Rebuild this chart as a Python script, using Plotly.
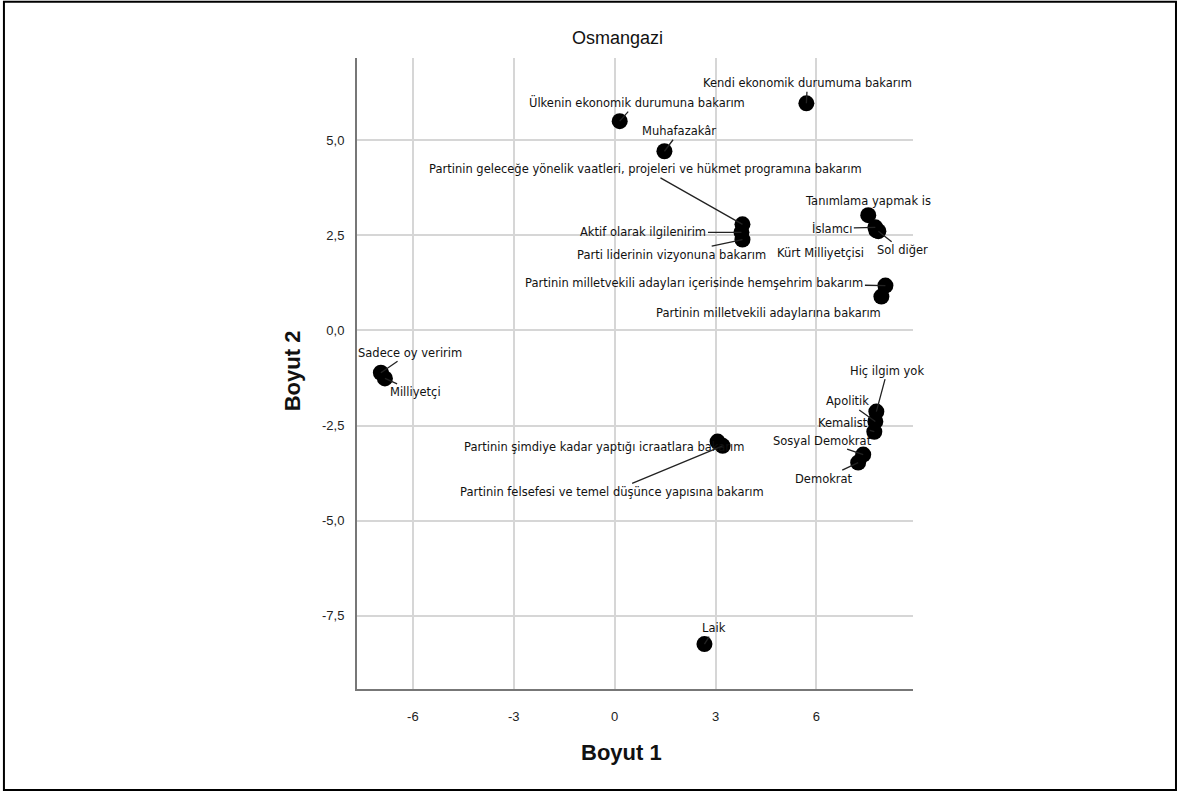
import plotly.graph_objects as go

# category labels and their coordinates (Boyut 1, Boyut 2)
labels = [
    "Kendi ekonomik durumuma bakarım",
    "Ülkenin ekonomik durumuna bakarım",
    "Muhafazakâr",
    "Partinin geleceğe yönelik vaatleri, projeleri ve hükmet programına bakarım",
    "Aktif olarak ilgilenirim",
    "Parti liderinin vizyonuna bakarım",
    "Tanımlama yapmak is",
    "İslamcı",
    "Kürt Milliyetçisi",
    "Sol diğer",
    "Partinin milletvekili adayları içerisinde hemşehrim bakarım",
    "Partinin milletvekili adaylarına bakarım",
    "Sadece oy veririm",
    "Milliyetçi",
    "Hiç ilgim yok",
    "Apolitik",
    "Kemalist",
    "Sosyal Demokrat",
    "Demokrat",
    "Partinin şimdiye kadar yaptığı icraatlara bakarım",
    "Partinin felsefesi ve temel düşünce yapısına bakarım",
    "Laik",
]
boyut1 = [5.70, 0.15, 1.48, 3.80, 3.77, 3.80, 7.54, 7.75, 7.78, 7.84, 8.05, 7.93,
          -6.95, -6.83, 7.78, 7.75, 7.72, 7.39, 7.24, 3.06, 3.21, 2.67]
boyut2 = [5.97, 5.50, 4.71, 2.79, 2.58, 2.39, 3.03, 2.71, 2.63, 2.61, 1.18, 0.89,
          -1.11, -1.26, -2.13, -2.39, -2.66, -3.26, -3.47, -2.92, -3.03, -8.24]

x_ticks = [-6, -3, 0, 3, 6]
x_ticktext = ["-6", "-3", "0", "3", "6"]
y_ticks = [-7.5, -5.0, -2.5, 0.0, 2.5, 5.0]
y_ticktext = ["-7,5", "-5,0", "-2,5", "0,0", "2,5", "5,0"]

# label offsets in pixels (text centre relative to point)
offsets = [(1, -20), (17, -19), (15, -20), (-97, -55), (-98, 0), (-71, 15),
           (0, -14), (-43, 1), (-56, 23), (24, 19), (-191, -3), (-113, 16),
           (29, -20), (31, 14), (11, -41), (-28, -20), (-31, -9), (-41, -14),
           (-34, 16), (-113, 5), (-111, 46), (10, -16)]
no_lead = {"Tanımlama yapmak is", "Kürt Milliyetçisi",
           "Partinin milletvekili adaylarına bakarım"}

lab_font = dict(family="DejaVu Sans, Arial", size=11.5, color="#111111")
big_font = "Liberation Sans, Arial"

fig = go.Figure()
fig.add_trace(go.Scatter(
    x=boyut1, y=boyut2, mode="markers",
    marker=dict(color="black", size=16),
    hoverinfo="text", text=labels, showlegend=False,
))

annotations = []
for lab, xv, yv, (dx, dy) in zip(labels, boyut1, boyut2, offsets):
    annotations.append(dict(
        x=xv, y=yv, text=lab, showarrow=True, ax=dx, ay=dy,
        arrowhead=0, arrowwidth=1.3, standoff=0,
        arrowcolor="rgba(0,0,0,0)" if lab in no_lead else "#222222",
        font=lab_font,
    ))

# title and axis titles placed by hand to follow the original layout
annotations += [
    dict(text="Osmangazi", xref="paper", yref="paper", x=0.468, y=1.032,
         xanchor="center", yanchor="middle", showarrow=False,
         font=dict(family=big_font, size=18, color="#111111")),
    dict(text="<b>Boyut 1</b>", xref="paper", yref="paper", x=0.475, y=-0.10,
         xanchor="center", yanchor="middle", showarrow=False,
         font=dict(family=big_font, size=22, color="#111111")),
    dict(text="<b>Boyut 2</b>", xref="paper", yref="paper", x=-0.117, y=0.505,
         xanchor="center", yanchor="middle", textangle=-90, showarrow=False,
         font=dict(family=big_font, size=22, color="#111111")),
]

fig.update_layout(
    width=1178, height=794,
    margin=dict(l=357, r=265, t=58, b=105),
    paper_bgcolor="white", plot_bgcolor="white",
    annotations=annotations,
    shapes=[dict(type="rect", xref="paper", yref="paper",
                 x0=-0.635, x1=1.473, y0=-0.160, y1=1.089,
                 line=dict(color="black", width=2))],
    xaxis=dict(range=[-7.66, 8.87], tickvals=x_ticks, ticktext=x_ticktext,
               showgrid=True, gridcolor="#d6d6d6", gridwidth=2, zeroline=False,
               showline=True, linecolor="#777777", linewidth=2,
               ticks="", ticklabelstandoff=14,
               tickfont=dict(family=big_font, size=13, color="#222222")),
    yaxis=dict(range=[-9.42, 7.16], tickvals=y_ticks, ticktext=y_ticktext,
               showgrid=True, gridcolor="#d6d6d6", gridwidth=2, zeroline=False,
               showline=True, linecolor="#777777", linewidth=2,
               ticks="", ticklabelstandoff=8,
               tickfont=dict(family=big_font, size=13, color="#222222")),
)

fig.write_html("out.html", config={"displayModeBar": False},
               post_script="document.body.style.margin='0';")
